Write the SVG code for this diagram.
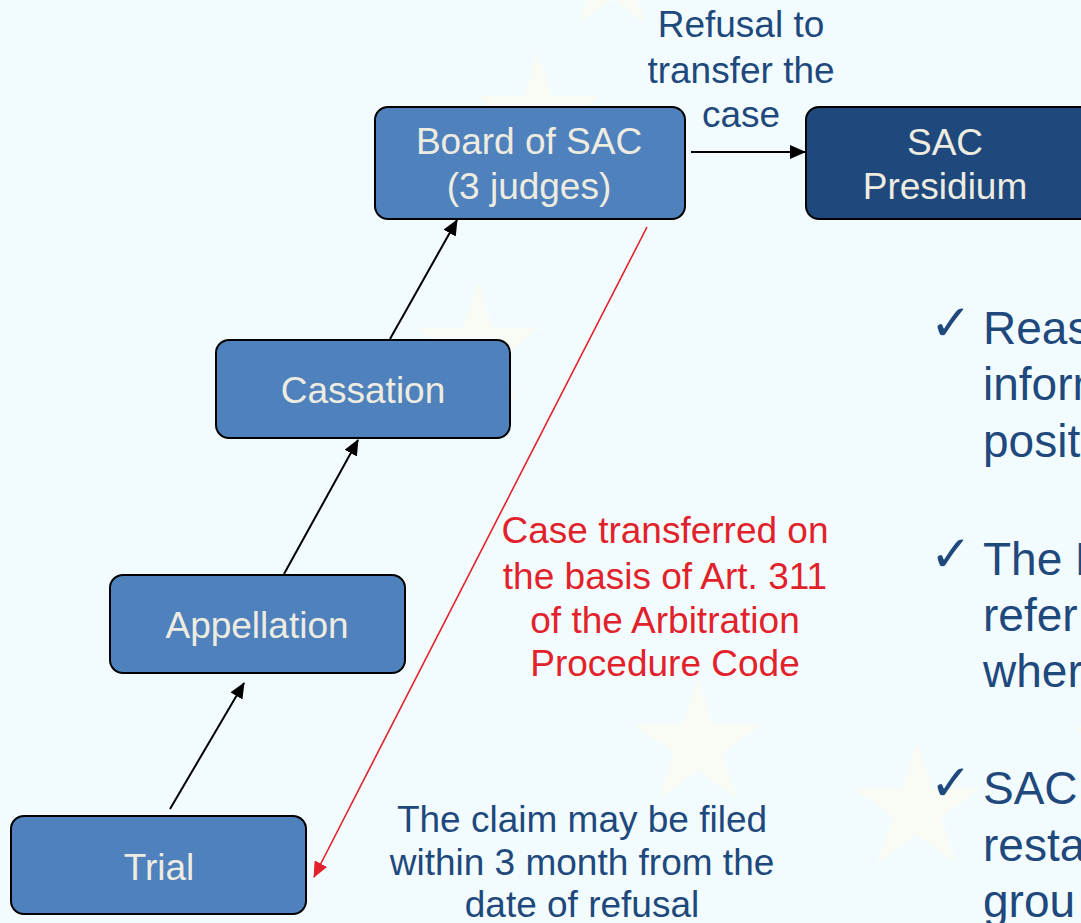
<svg xmlns="http://www.w3.org/2000/svg" xmlns:xlink="http://www.w3.org/1999/xlink" width="1081" height="923" viewBox="0 0 1081 923">
  <style>
    .box { fill: #4F81BD; stroke: #000000; stroke-width: 2; }
    .dark { fill: #1F497D; stroke: #000000; stroke-width: 2; }
    .nt { font-family: "Liberation Sans", Arial, sans-serif; font-size: 37px; fill: #EEECE1; text-anchor: middle; }
    .lbl { font-family: "Liberation Sans", Arial, sans-serif; font-size: 37px; fill: #1F497D; text-anchor: middle; }
    .red { font-family: "Liberation Sans", Arial, sans-serif; font-size: 37px; fill: #E2222B; text-anchor: middle; }
    .bul { font-family: "Liberation Sans", Arial, sans-serif; font-size: 46px; fill: #1F497D; }
    .chk { font-family: "DejaVu Sans", sans-serif; font-size: 50px; font-weight: bold; fill: #1F497D; }
    .star { fill: #F9FCF5; }
    .conn { stroke: #000000; stroke-width: 2; fill: none; }
    .connred { stroke: #E2222B; stroke-width: 1.6; fill: none; }
  </style>
  <defs>
    <path id="star" d="M0,-1 L0.2245,-0.309 L0.951,-0.309 L0.363,0.118 L0.588,0.809 L0,0.382 L-0.588,0.809 L-0.363,0.118 L-0.951,-0.309 L-0.2245,-0.309Z"/>
    <marker id="ah" markerUnits="userSpaceOnUse" markerWidth="16" markerHeight="14" refX="15" refY="7" orient="auto">
      <path d="M0,0 L16,7 L0,14 Z" fill="#000000"/>
    </marker>
    <marker id="ahr" markerUnits="userSpaceOnUse" markerWidth="16" markerHeight="14" refX="15" refY="7" orient="auto">
      <path d="M0,0 L16,7 L0,14 Z" fill="#E2222B"/>
    </marker>
  </defs>

  <rect x="0" y="0" width="1081" height="923" fill="#F2FCFE"/>

  <g id="background-stars">
    <use xlink:href="#star" class="star" transform="translate(612,-22) scale(56)"/>
    <use xlink:href="#star" class="star" transform="translate(538,116) scale(64)"/>
    <use xlink:href="#star" class="star" transform="translate(478,348) scale(66)"/>
    <use xlink:href="#star" class="star" transform="translate(698,745) scale(67)"/>
    <use xlink:href="#star" class="star" transform="translate(917,809) scale(67)"/>
    <use xlink:href="#star" class="star" transform="translate(1137,748) scale(67)"/>
  </g>

  <g id="connectors">
    <line class="conn" x1="170" y1="809" x2="244" y2="683" marker-end="url(#ah)"/>
    <line class="conn" x1="284" y1="574" x2="358" y2="440" marker-end="url(#ah)"/>
    <line class="conn" x1="390" y1="339" x2="457" y2="220" marker-end="url(#ah)"/>
    <line class="conn" x1="691" y1="152" x2="805" y2="152" marker-end="url(#ah)"/>
    <line class="connred" x1="647" y1="227" x2="314" y2="877" marker-end="url(#ahr)"/>
  </g>

  <g id="node-board">
    <rect class="box" x="375" y="107" width="310" height="112" rx="13"/>
    <text class="nt" x="529" y="154">Board of SAC</text>
    <text class="nt" x="529" y="199">(3 judges)</text>
  </g>

  <g id="node-presidium">
    <rect class="dark" x="806" y="107" width="290" height="112" rx="13"/>
    <text class="nt" x="945" y="155">SAC</text>
    <text class="nt" x="945" y="199">Presidium</text>
  </g>

  <g id="node-cassation">
    <rect class="box" x="216" y="340" width="294" height="98" rx="13"/>
    <text class="nt" x="363" y="403">Cassation</text>
  </g>

  <g id="node-appellation">
    <rect class="box" x="110" y="575" width="295" height="98" rx="13"/>
    <text class="nt" x="257" y="638">Appellation</text>
  </g>

  <g id="node-trial">
    <rect class="box" x="11" y="816" width="295" height="98" rx="13"/>
    <text class="nt" x="159" y="880">Trial</text>
  </g>

  <g id="label-refusal">
    <text class="lbl" x="741" y="37">Refusal to</text>
    <text class="lbl" x="741" y="83">transfer the</text>
    <text class="lbl" x="741" y="127">case</text>
  </g>

  <g id="label-transferred">
    <text class="red" x="665" y="543">Case transferred on</text>
    <text class="red" x="665" y="589">the basis of Art. 311</text>
    <text class="red" x="665" y="633">of the Arbitration</text>
    <text class="red" x="665" y="676">Procedure Code</text>
  </g>

  <g id="label-claim">
    <text class="lbl" x="582" y="832">The claim may be filed</text>
    <text class="lbl" x="582" y="875">within 3 month from the</text>
    <text class="lbl" x="582" y="917">date of refusal</text>
  </g>

  <g id="bullets">
    <text class="chk" x="930" y="340">✓</text>
    <text class="bul" x="983" y="344">Reas</text>
    <text class="bul" x="983" y="400">inform</text>
    <text class="bul" x="983" y="457">posit</text>

    <text class="chk" x="930" y="571">✓</text>
    <text class="bul" x="983" y="575">The P</text>
    <text class="bul" x="983" y="631">refer</text>
    <text class="bul" x="983" y="687">wher</text>

    <text class="chk" x="930" y="800">✓</text>
    <text class="bul" x="983" y="804">SAC</text>
    <text class="bul" x="983" y="861">resta</text>
    <text class="bul" x="983" y="917">grou</text>
  </g>
</svg>
